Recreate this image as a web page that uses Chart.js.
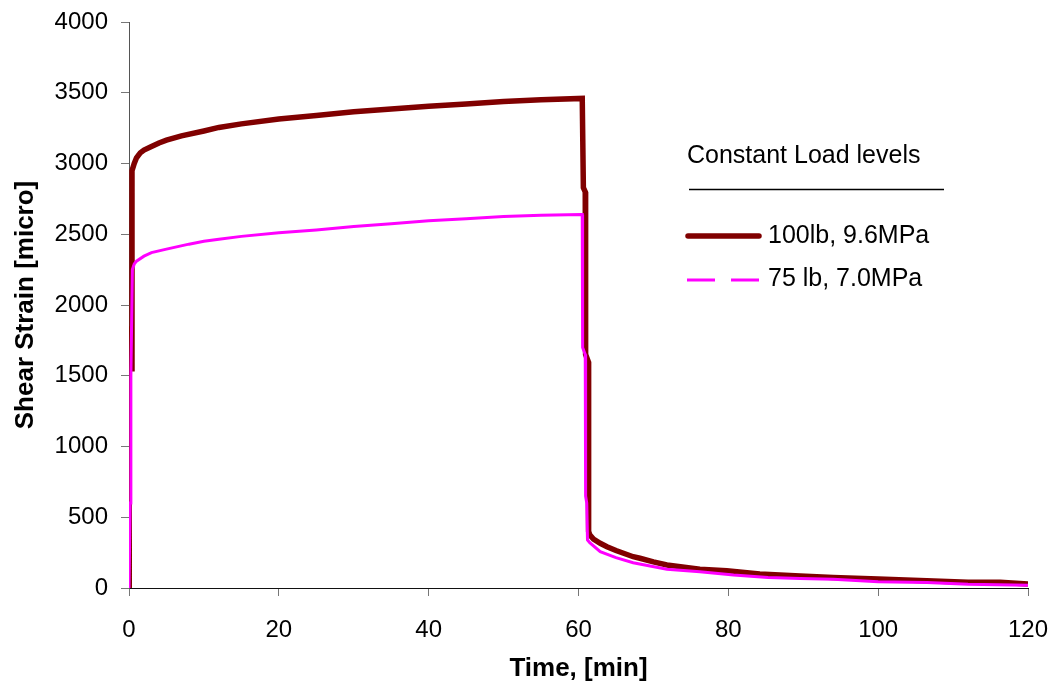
<!DOCTYPE html>
<html lang="en">

<head>
    <meta charset="UTF-8">
    <title>Shear Strain vs Time</title>
    <style>
        body {
            margin: 0;
            background: #fff;
        }

        #wrap {
            width: 1057px;
            height: 692px;
            position: relative;
        }
    </style>
</head>

<body>
    <div id="wrap">
        <canvas id="strainChart"></canvas>
    </div>

    <script src="https://cdn.jsdelivr.net/npm/chart.js"></script>
    <script>
        // 100 lb, 9.6 MPa
        const time100 = [0, 0.03, 0.35, 0.4, 0.7, 1, 1.5, 2, 3, 4, 5, 7, 10, 12, 15, 20, 25, 30, 35, 40, 45, 50, 55,
            60.5, 60.6, 60.65, 60.9, 60.95, 61.3, 61.35, 61.5, 62, 62.9, 63.8, 65, 67.3, 68.2, 70, 71.8, 76.2, 79.8,
            84.2, 89.6, 94, 100, 106.5, 112, 116.3, 120];
        const strain100 = [0, 1850, 1550, 2950, 3000, 3040, 3075, 3095, 3120, 3145, 3165, 3195, 3230, 3255, 3280,
            3315, 3340, 3365, 3385, 3405, 3420, 3438, 3450, 3460, 3460, 2830, 2800, 1650, 1600, 400, 375, 345, 316,
            292, 265, 221, 210, 185, 163, 132, 122, 99, 85, 75, 64, 52, 40, 40, 28];

        // 75 lb, 7.0 MPa
        const time75 = [0, 0.1, 0.15, 0.25, 0.45, 0.7, 1, 2, 3, 5, 8, 10, 12, 15, 20, 25, 30, 35, 40, 45, 50, 55,
            60.4, 60.5, 60.55, 60.9, 60.95, 61.1, 61.2, 61.5, 62.9, 65, 67.3, 71.8, 76.2, 80.7, 85.3, 89.6, 94, 100,
            106.5, 112, 120];
        const strain75 = [0, 0, 600, 1500, 2250, 2290, 2310, 2345, 2370, 2395, 2430, 2450, 2465, 2485, 2510, 2530,
            2555, 2575, 2595, 2610, 2625, 2635, 2640, 2640, 1700, 1650, 650, 600, 340, 320, 257, 215, 179, 132, 115,
            92, 75, 68, 61, 45, 38, 26, 19];

        const seriesNames = ['100lb, 9.6MPa', '75 lb, 7.0MPa'];
        const legendTitle = 'Constant Load levels';

        const toPoints = (xs, ys) => xs.map((x, i) => ({ x: x, y: ys[i] }));

        // hand drawn legend, to get the title + rule + dashed sample like the original
        const loadLegend = {
            id: 'loadLegend',
            afterDraw(chart) {
                const ctx = chart.ctx;
                ctx.save();
                ctx.font = '25px "Liberation Sans", Arial, sans-serif';
                ctx.fillStyle = '#000';
                ctx.textAlign = 'left';
                ctx.textBaseline = 'alphabetic';
                ctx.fillText(legendTitle, 687, 163);

                ctx.strokeStyle = '#000';
                ctx.lineWidth = 1.5;
                ctx.beginPath();
                ctx.moveTo(689, 189.5);
                ctx.lineTo(944, 189.5);
                ctx.stroke();

                // dark red entry
                ctx.strokeStyle = '#800000';
                ctx.lineWidth = 5.5;
                ctx.lineCap = 'round';
                ctx.beginPath();
                ctx.moveTo(688, 236);
                ctx.lineTo(759, 236);
                ctx.stroke();
                ctx.fillText(seriesNames[0], 768, 243);

                // magenta entry (dashed)
                ctx.strokeStyle = '#ff00ff';
                ctx.lineWidth = 3;
                ctx.lineCap = 'butt';
                ctx.setLineDash([28, 16]);
                ctx.beginPath();
                ctx.moveTo(687, 280);
                ctx.lineTo(759, 280);
                ctx.stroke();
                ctx.setLineDash([]);
                ctx.fillText(seriesNames[1], 768, 286);
                ctx.restore();
            }
        };

        const tickFont = { family: '"Liberation Sans", Arial, sans-serif', size: 24 };
        const titleFont = { family: '"Liberation Sans", Arial, sans-serif', size: 26, weight: 'bold' };

        const ctxStrain = document.getElementById('strainChart').getContext('2d');
        new Chart(ctxStrain, {
            type: 'line',
            data: {
                datasets: [
                    {
                        label: seriesNames[0],
                        data: toPoints(time100, strain100),
                        borderColor: '#800000',
                        borderWidth: 5.5,
                        pointRadius: 0,
                        tension: 0,
                        order: 1
                    },
                    {
                        label: seriesNames[1],
                        data: toPoints(time75, strain75),
                        borderColor: '#ff00ff',
                        borderWidth: 3,
                        pointRadius: 0,
                        tension: 0,
                        order: 0
                    }
                ]
            },
            options: {
                responsive: true,
                maintainAspectRatio: false,
                animation: false,
                layout: { padding: { left: 0, top: 22, right: 29, bottom: 0 } },
                plugins: {
                    legend: { display: false },
                    tooltip: { enabled: false }
                },
                scales: {
                    x: {
                        type: 'linear',
                        min: 0,
                        max: 120,
                        afterFit: (scale) => {
                            scale.height = 104;
                            scale.paddingLeft = 0;
                            scale.paddingRight = 0;
                        },
                        border: { display: true, color: '#111', width: 1 },
                        grid: { drawOnChartArea: false, drawTicks: true, tickLength: 8, color: '#777' },
                        ticks: {
                            stepSize: 20,
                            padding: 20,
                            color: '#000',
                            font: tickFont,
                            callback: (value) => String(value)
                        },
                        title: {
                            display: true,
                            text: 'Time, [min]',
                            color: '#000',
                            padding: { top: 0, bottom: 8 },
                            font: titleFont
                        }
                    },
                    y: {
                        min: 0,
                        max: 4000,
                        afterFit: (scale) => {
                            scale.width = 129;
                            scale.paddingTop = 0;
                            scale.paddingBottom = 0;
                        },
                        border: { display: true, color: '#555', width: 1 },
                        grid: { drawOnChartArea: false, drawTicks: true, tickLength: 8, color: '#777' },
                        ticks: {
                            stepSize: 500,
                            padding: 13,
                            color: '#000',
                            font: tickFont,
                            callback: (value) => String(value)
                        },
                        title: {
                            display: true,
                            text: 'Shear Strain [micro]',
                            color: '#000',
                            padding: { top: 10, bottom: 0 },
                            font: titleFont
                        }
                    }
                }
            },
            plugins: [loadLegend]
        });
    </script>
</body>

</html>
